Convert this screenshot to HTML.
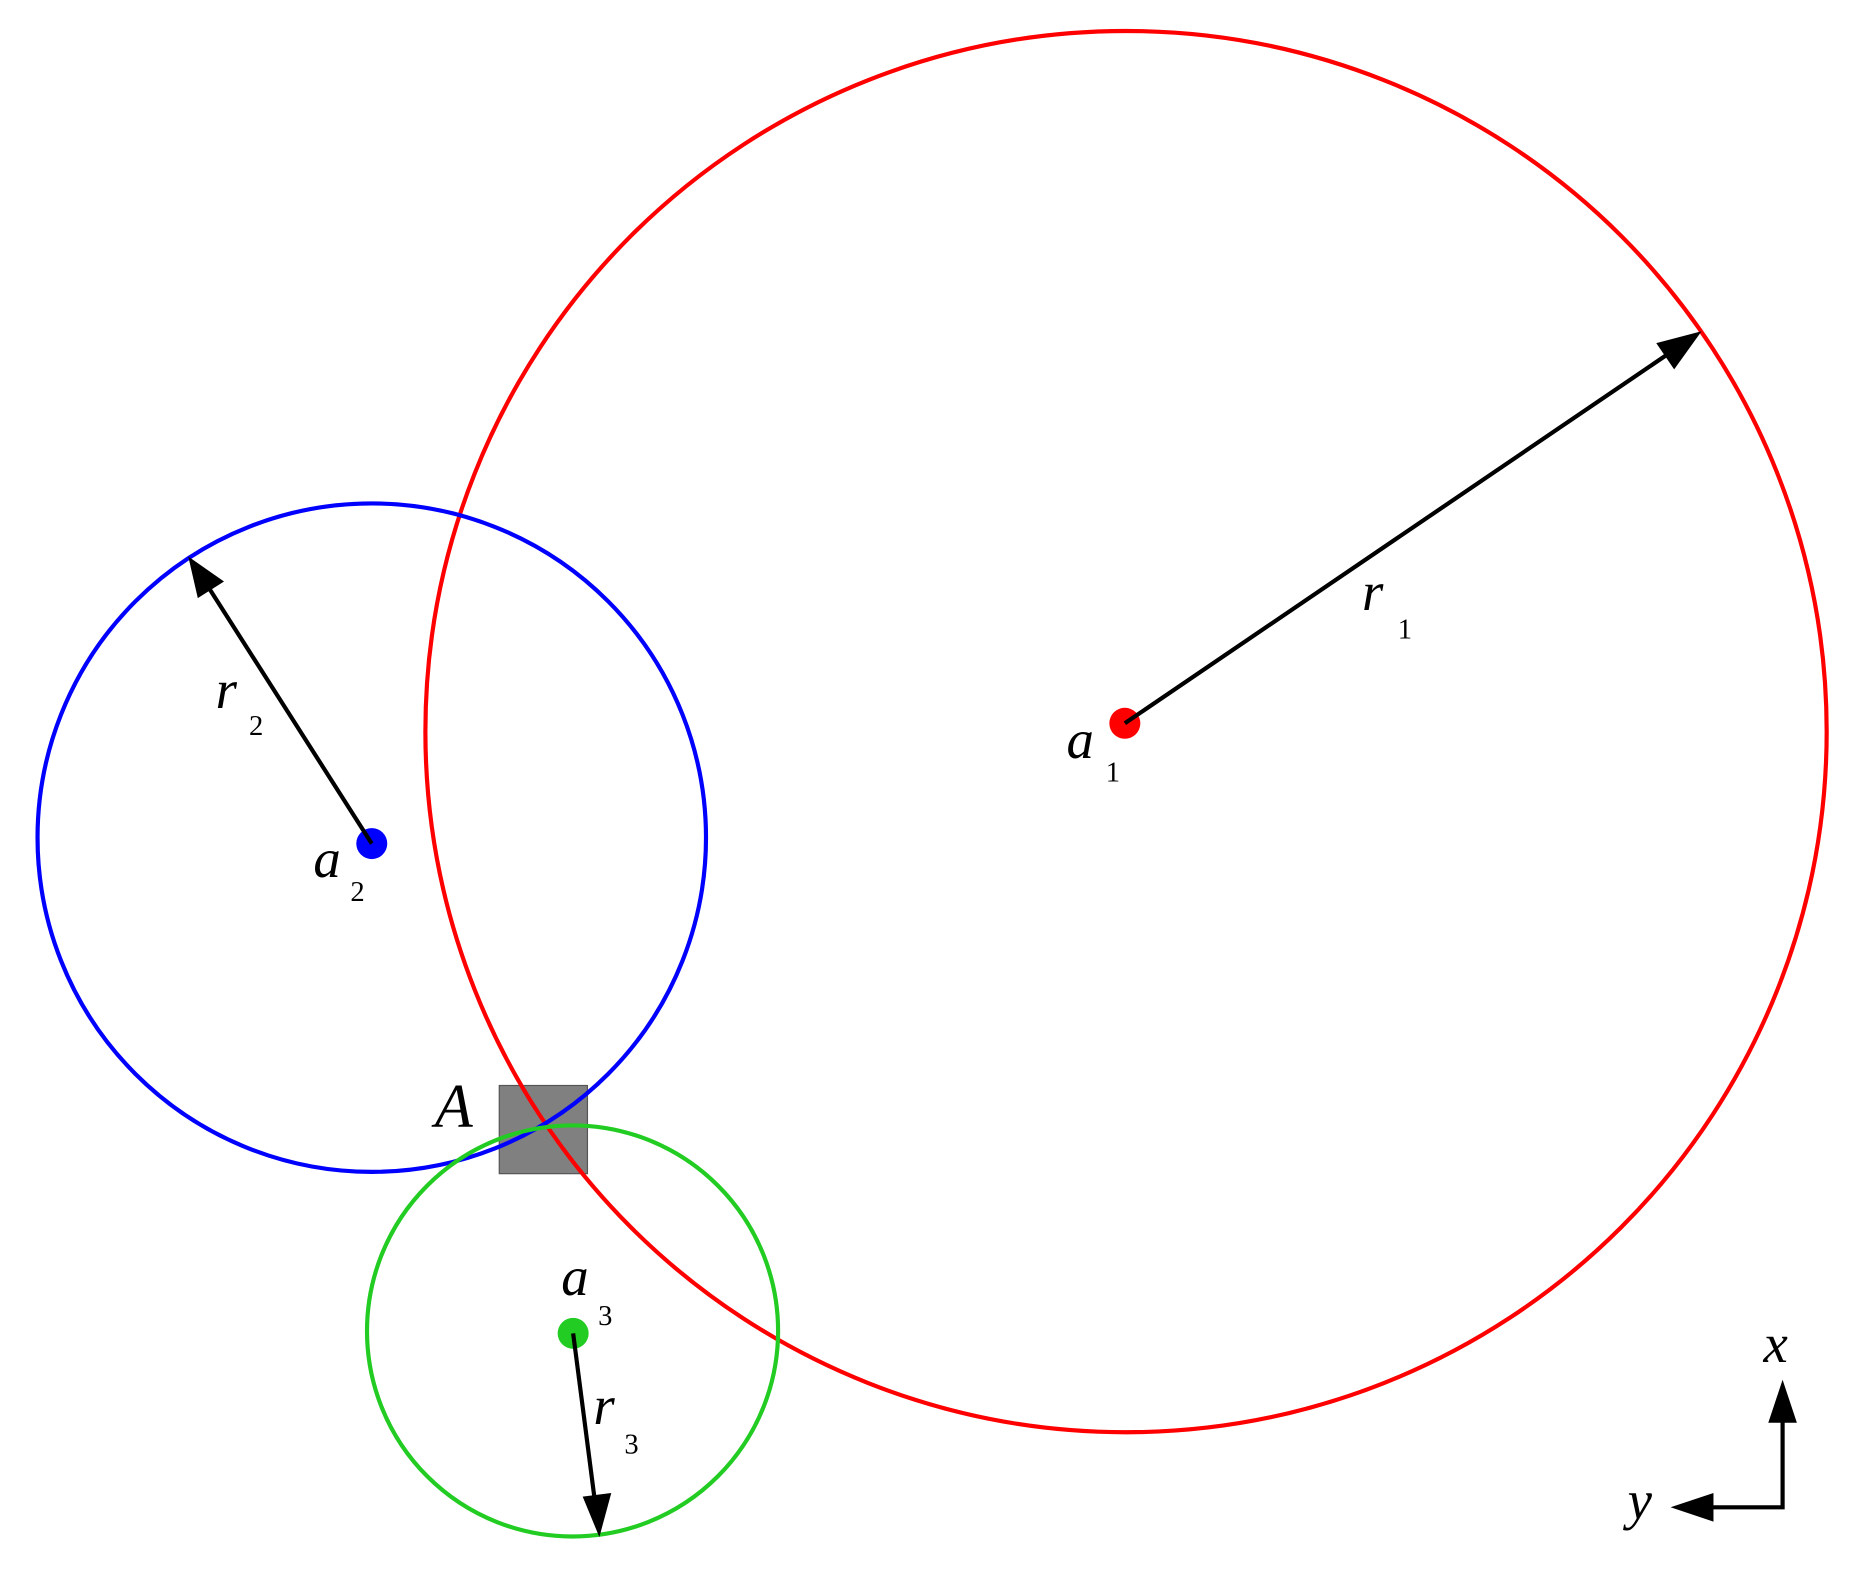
<!DOCTYPE html>
<html><head><meta charset="utf-8"><style>
html,body{margin:0;padding:0;background:#fff;}
svg{display:block;}
text{font-family:"Liberation Serif",serif;font-style:italic;fill:#000;}
.s{font-style:normal;font-size:24px;}
</style></head><body>
<svg width="1866" height="1577" viewBox="0 0 1566 1323.5" preserveAspectRatio="none" xmlns="http://www.w3.org/2000/svg">
<rect x="419" y="911" width="74" height="74" fill="#808080" stroke="#555" stroke-width="1"/>
<circle cx="945" cy="614" r="588" fill="none" stroke="#ff0000" stroke-width="3.5"/>
<circle cx="312" cy="703" r="280.5" fill="none" stroke="#0000ff" stroke-width="3.5"/>
<circle cx="480.5" cy="1117" r="172.5" fill="none" stroke="#22cc22" stroke-width="3.5"/>
<circle cx="944" cy="607" r="13" fill="#ff0000"/>
<circle cx="312" cy="708" r="13" fill="#0000ff"/>
<circle cx="481" cy="1119" r="13" fill="#22cc22"/>
<g stroke="#000" stroke-width="3.5" fill="#000">
<line x1="944" y1="607" x2="1400" y2="297"/>
<polygon points="1428,278 1405,310 1390,288" stroke="none"/>
<line x1="312" y1="708" x2="175" y2="493"/>
<polygon points="158,467 188,488 166,502" stroke="none"/>
<line x1="481" y1="1119" x2="499" y2="1258"/>
<polygon points="503,1290 489,1256 513,1253" stroke="none"/>
<polyline points="1496,1189 1496,1265 1433,1265" fill="none"/>
<polygon points="1496,1158 1508,1194 1484,1194" stroke="none"/>
<polygon points="1402,1265 1438,1253 1438,1277" stroke="none"/>
</g>
<text x="895" y="636" font-size="46">a</text><text x="928" y="656" class="s">1</text>
<text x="263" y="736" font-size="46">a</text><text x="294" y="756" class="s">2</text>
<text x="471" y="1087" font-size="46">a</text><text x="502" y="1112" class="s">3</text>
<text x="1143" y="512" font-size="46">r</text><text x="1173" y="536" class="s">1</text>
<text x="181" y="594" font-size="46">r</text><text x="209" y="617" class="s">2</text>
<text x="498" y="1195" font-size="46">r</text><text x="524" y="1220" class="s">3</text>
<text x="365" y="946" font-size="52">A</text>
<text x="1480" y="1143" font-size="46">x</text>
<text x="1366" y="1275" font-size="46">y</text>
</svg>
</body></html>
